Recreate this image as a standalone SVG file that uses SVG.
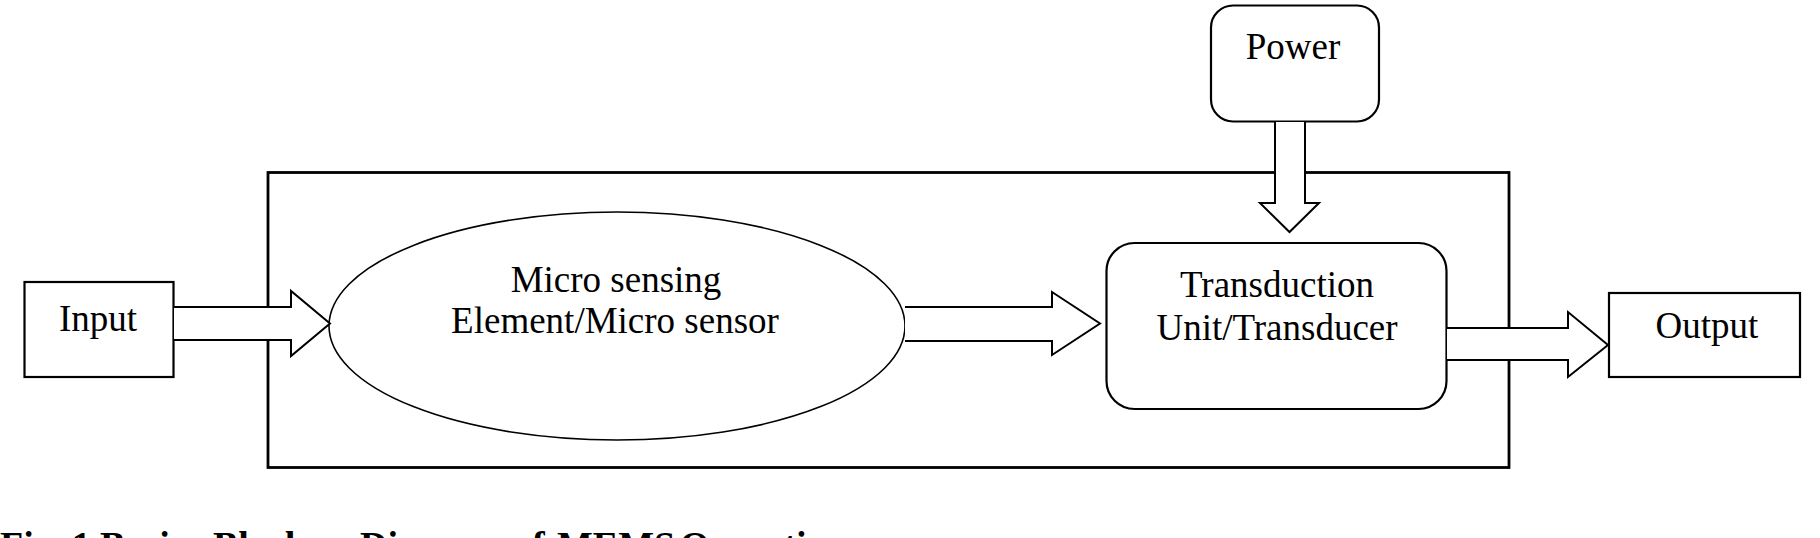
<svg xmlns="http://www.w3.org/2000/svg" width="1820" height="538" viewBox="0 0 1820 538">
<style>
.box{fill:#fff;stroke:#000;stroke-width:2.2}
.frame{fill:none;stroke:#000;stroke-width:2.8}
.ell{fill:#fff;stroke:#000;stroke-width:1.6}
.arr{fill:#fff;stroke:#000;stroke-width:2;stroke-linejoin:miter}
.lbl{font-family:"Liberation Serif","Times New Roman",serif;font-size:37px;fill:#000;text-anchor:middle}
.cap{font-family:"Liberation Serif","Times New Roman",serif;font-size:38px;font-weight:bold;fill:#000}
</style>
<rect width="1820" height="538" fill="#fff"/>
<g id="frame"><rect class="frame" x="268" y="172.5" width="1241" height="295"/></g>
<g id="input"><rect class="box" x="24.5" y="282" width="149" height="95"/><text class="lbl" x="98" y="331">Input</text></g>
<g id="sensor"><ellipse class="ell" cx="617" cy="326" rx="288" ry="114"/><text class="lbl" x="616" y="292">Micro sensing</text><text class="lbl" x="615" y="333">Element/Micro sensor</text></g>
<g id="power"><rect class="box" x="1211" y="5.5" width="168" height="116" rx="22"/><text class="lbl" x="1293" y="59">Power</text></g>
<g id="transducer"><rect class="box" x="1106.5" y="243" width="340" height="166" rx="28"/><text class="lbl" x="1277" y="297">Transduction</text><text class="lbl" x="1277" y="340">Unit/Transducer</text></g>
<g id="output"><rect class="box" x="1609" y="293" width="191" height="84"/><text class="lbl" x="1707" y="338">Output</text></g>
<g id="connectors">
<path class="arr" d="M174,307 L291,307 L291,291 L330,323.5 L291,356 L291,340 L174,340"/>
<path class="arr" d="M905,307 L1052,307 L1052,292 L1100,323.5 L1052,355 L1052,341 L905,341"/>
<path class="arr" d="M1447,328 L1568,328 L1568,312 L1608,345 L1568,377 L1568,360 L1447,360"/>
<path class="arr" d="M1275,122 L1275,203 L1260,203 L1289.5,232 L1319,203 L1305,203 L1305,122"/>
</g>
<text class="cap" y="558"><tspan x="0">Fig. 1</tspan><tspan x="100">Basic</tspan><tspan x="213">Block</tspan><tspan x="360">Diagram</tspan><tspan x="513">of</tspan><tspan x="557">MEMS</tspan><tspan x="680">Operation</tspan></text>
</svg>
